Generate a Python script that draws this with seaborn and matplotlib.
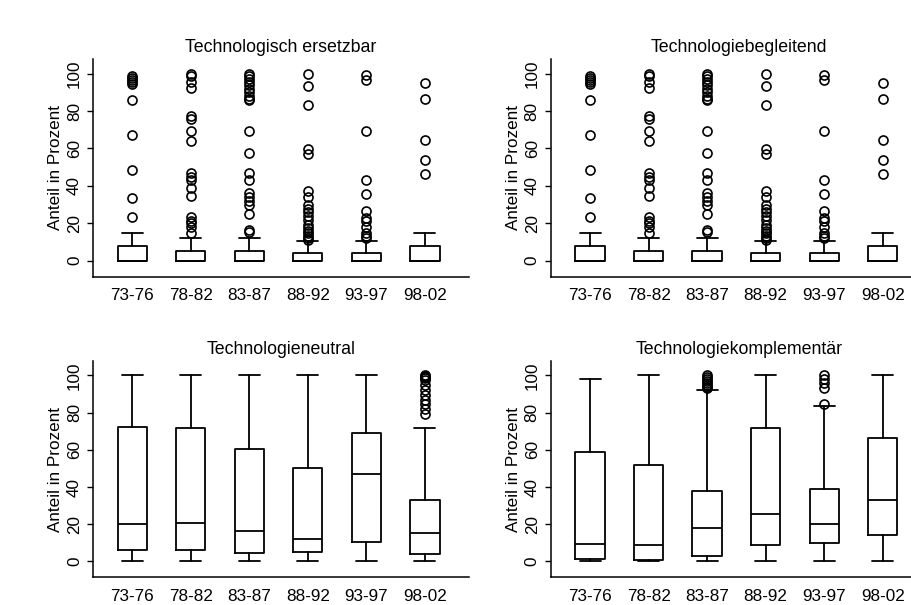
import matplotlib.pyplot as plt
import seaborn as sns

periods = ['73-76', '78-82', '83-87', '88-92', '93-97', '98-02']
titles = ['Technologisch ersetzbar', 'Technologiebegleitend',
          'Technologieneutral', 'Technologiekomplementär']

# Technologisch ersetzbar / Technologiebegleitend (both panels show the same boxes)
ers_q1 = [0, 0, 0, 0, 0, 0]
ers_med = [0, 0, 0, 0, 0, 0]
ers_q3 = [7.9, 5.0, 5.4, 4.1, 4.1, 7.7]
ers_lo = [0, 0, 0, 0, 0, 0]
ers_hi = [14.8, 12.1, 12.1, 10.7, 10.7, 14.6]
ers_fliers = [
    [98.5, 97.5, 96.5, 95.5, 94.5, 85.7, 67.3, 48.6, 33.4, 23.2],
    [100, 98.5, 95.5, 92.5, 77.1, 75.9, 69.6, 63.9, 46.8, 44.6, 42.9, 38.8,
     34.8, 23.6, 21.4, 20, 18.2, 14.6],
    [100, 98.5, 97, 95.5, 94, 92, 90, 88, 86.5, 85.7, 69.6, 57.5, 46.8, 42.9,
     36.1, 34.3, 32.1, 30, 25, 16.4, 15.2],
    [100, 93.6, 83, 59.8, 57.1, 37, 33.9, 30, 27.7, 25.9, 24.1, 21.8, 19.3,
     17.3, 16.1, 14.8, 13.4, 12.1, 11.1],
    [99.1, 96.8, 69.6, 43.4, 35.7, 26.4, 22.9, 21.1, 17.9, 14.8, 13.2, 12.1],
    [95, 86.6, 64.3, 54.1, 46.4],
]

# Technologieneutral
neu_q1 = [6.3, 6.3, 4.8, 5.0, 10.6, 3.8]
neu_med = [19.9, 20.8, 16.6, 12.3, 47.2, 15.2]
neu_q3 = [72.1, 71.6, 60.6, 50.3, 68.9, 32.9]
neu_lo = [0, 0, 0, 0, 0, 0]
neu_hi = [100, 100, 100, 100, 100, 72.0]
neu_fliers = [[], [], [], [], [],
              [100, 99.5, 99, 98.5, 97.5, 95, 92, 89.5, 87, 84.5, 82, 79.5]]

# Technologiekomplementär
kom_q1 = [1.1, 0.9, 2.7, 9.0, 10.0, 14.3]
kom_med = [9.5, 8.6, 17.9, 25.4, 20.2, 33.1]
kom_q3 = [59.0, 51.9, 38.1, 71.7, 39.0, 66.5]
kom_lo = [0, 0, 0, 0, 0, 0]
kom_hi = [98, 100, 92.1, 100, 83.4, 100]
kom_fliers = [[], [],
              [100, 99, 98, 97, 96, 95, 94, 93],
              [],
              [100, 97.9, 96.1, 93.2, 84.5],
              []]

panels = [
    (ers_q1, ers_med, ers_q3, ers_lo, ers_hi, ers_fliers),
    (ers_q1, ers_med, ers_q3, ers_lo, ers_hi, ers_fliers),
    (neu_q1, neu_med, neu_q3, neu_lo, neu_hi, neu_fliers),
    (kom_q1, kom_med, kom_q3, kom_lo, kom_hi, kom_fliers),
]

sns.set_theme(style='ticks')
plt.rcParams['font.family'] = ['Liberation Sans', 'DejaVu Sans']
plt.rcParams['text.color'] = 'black'
plt.rcParams['axes.labelcolor'] = 'black'

fig = plt.figure(figsize=(9.12, 6.05), dpi=100)

# axes boxes in figure fractions (left, bottom, width, height)
boxes = [
    [0.102, 0.5425, 0.412, 0.3605],
    [0.604, 0.5425, 0.412, 0.3605],
    [0.102, 0.0455, 0.412, 0.3585],
    [0.604, 0.0455, 0.412, 0.3585],
]

line = dict(color='black', linewidth=1.3)

for rect, title, (q1, med, q3, lo, hi, fl) in zip(boxes, titles, panels):
    ax = fig.add_axes(rect)
    stats = []
    for i, p in enumerate(periods):
        stats.append({'label': p, 'q1': q1[i], 'med': med[i], 'q3': q3[i],
                      'whislo': lo[i], 'whishi': hi[i], 'fliers': fl[i]})
    ax.bxp(stats, positions=range(len(periods)), widths=0.5, capwidths=0.36,
           boxprops=line, whiskerprops=line, capprops=line, medianprops=line,
           flierprops=dict(marker='o', markerfacecolor='none',
                           markeredgecolor='black', markersize=6.5,
                           markeredgewidth=1.2))
    ax.set_xlim(-0.67, 5.75)
    ax.set_ylim(-8.6, 108)
    ax.set_yticks([0, 20, 40, 60, 80, 100])
    ax.set_xticks(range(len(periods)))
    ax.set_xticklabels(periods, fontsize=12.3)
    for lab in ax.get_yticklabels():
        lab.set_rotation(90)
        lab.set_va('center')
        lab.set_fontsize(12.3)
    ax.tick_params(axis='x', length=0, pad=8, colors='black')
    ax.tick_params(axis='y', length=4, width=1, pad=4, colors='black')
    ax.set_ylabel('Anteil in Prozent', fontsize=12.3, labelpad=3)
    ax.set_title(title, fontsize=12.8, pad=5, color='black')
    sns.despine(ax=ax)
    for s in ['left', 'bottom']:
        ax.spines[s].set_linewidth(1.1)
        ax.spines[s].set_color('black')
    ax.set_facecolor('white')

fig.savefig('out.png', dpi=100)
